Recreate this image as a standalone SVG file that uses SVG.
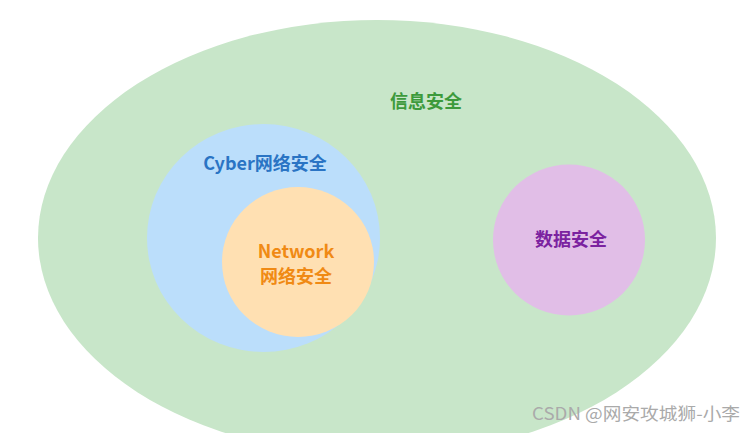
<svg xmlns="http://www.w3.org/2000/svg" width="754" height="433" viewBox="0 0 754 433">
<style>
.lbl{font-family:"Noto Sans CJK SC","Liberation Sans",sans-serif;font-weight:bold;font-size:18px;text-anchor:middle;dominant-baseline:central}
.wm{font-family:"Noto Sans CJK SC","Liberation Sans",sans-serif;font-size:17px;fill:#aaaaaa;text-anchor:end;dominant-baseline:central}
</style>
<rect width="754" height="433" fill="#ffffff"/>
<g id="info-security">
<ellipse cx="377" cy="238" rx="339" ry="218" fill="#c8e6c9"/>
<text class="lbl" x="426" y="100" fill="#3c9a3c">信息安全</text>
</g>
<g id="cyber-security">
<ellipse cx="263.5" cy="238" rx="116.5" ry="114" fill="#bbdefb"/>
<text class="lbl" x="265" y="162" fill="#2a74c4">Cyber网络安全</text>
</g>
<g id="network-security">
<ellipse cx="298" cy="262" rx="76" ry="75" fill="#ffe0b2"/>
<text class="lbl" x="296" y="250" fill="#f08a14">Network</text>
<text class="lbl" x="296" y="275" fill="#f08a14">网络安全</text>
</g>
<g id="data-security">
<ellipse cx="569" cy="240" rx="76" ry="75.5" fill="#e1bee7"/>
<text class="lbl" x="571" y="238" fill="#7b22a0">数据安全</text>
</g>
<g id="connectors"></g>
<text class="wm" x="740" y="412" textLength="208" lengthAdjust="spacingAndGlyphs">CSDN @网安攻城狮-小李</text>
</svg>
